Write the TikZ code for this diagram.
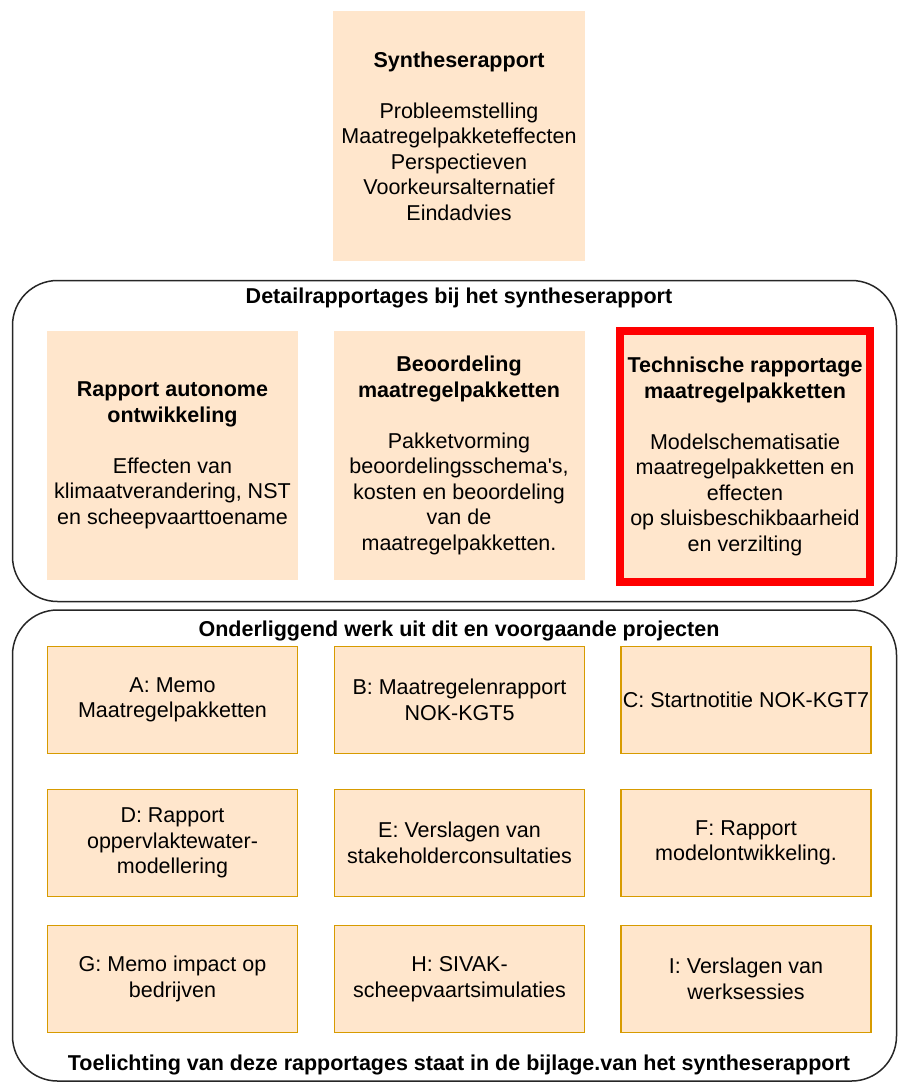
\documentclass[tikz,border=0pt]{standalone}
\usepackage{fontspec}
\setmainfont{Liberation Sans}
\usetikzlibrary{positioning}
\definecolor{perzik}{HTML}{FFE6CC}
\definecolor{oranjerand}{HTML}{D79B00}
\definecolor{rood}{HTML}{FF0000}
\newcommand{\tekstmaat}{\fontsize{21.5}{25.5}\selectfont}
\begin{document}
\begin{tikzpicture}[x=1pt,y=-1pt,
	blok/.style={fill=perzik,minimum width=251pt,minimum height=249pt,align=center,inner sep=2pt,font=\tekstmaat},
	rodeblok/.style={blok,draw=rood,line width=8pt,minimum width=250pt,minimum height=251pt},
	werk/.style={fill=perzik,draw=oranjerand,line width=1.5pt,minimum width=250pt,minimum height=107pt,align=center,inner sep=2pt,font=\tekstmaat},
	kader/.style={draw=black!85,line width=1.5pt,rounded corners=45pt,minimum width=884pt,inner sep=0pt},
	kop/.style={font=\bfseries\tekstmaat,inner sep=0pt}]
		\useasboundingbox (0,0) rectangle (898,1083);
		\node[blok,minimum width=252pt,minimum height=250pt] (synthese) at (459,136) {\textbf{Syntheserapport}\\[25.5pt]Probleemstelling\\Maatregelpakketeffecten\\Perspectieven\\Voorkeursalternatief\\Eindadvies};
		\node[kader,minimum height=321pt] (detail) at (454.5,441) {};
		\node[kop] (detailkop) at (459,298) {Detailrapportages bij het syntheserapport};
		\node[blok] (autonoom) at (172.5,455.5) {\textbf{Rapport autonome}\\\textbf{ontwikkeling}\\[25.5pt]Effecten van\\klimaatverandering, NST\\en scheepvaarttoename};
		\node[blok] (beoordeling) at (459,455.5) {\textbf{Beoordeling}\\\textbf{maatregelpakketten}\\[25.5pt]Pakketvorming\\beoordelingsschema\textquotesingle s,\\kosten en beoordeling\\van de\\maatregelpakketten.};
		\node[rodeblok] (technisch) at (745,456.5) {\textbf{Technische rapportage}\\\textbf{maatregelpakketten}\\[25.5pt]Modelschematisatie\\maatregelpakketten en\\effecten\\op sluisbeschikbaarheid\\en verzilting};
		\node[kader,minimum height=471pt] (onderliggend) at (454.5,845.5) {};
		\node[kop] (onderkop) at (459,631) {Onderliggend werk uit dit en voorgaande projecten};
		\node[werk] (memoA) at (172.5,700) {A: Memo\\Maatregelpakketten};
		\node[werk] (rapportB) at (459.5,700) {B: Maatregelenrapport\\NOK-KGT5};
		\node[werk] (notitieC) at (746,700) {C: Startnotitie NOK-KGT7};
		\node[werk] (rapportD) at (172.5,843) {D: Rapport\\oppervlaktewater-\\modellering};
		\node[werk] (verslagE) at (459.5,843) {E: Verslagen van\\stakeholderconsultaties};
		\node[werk] (rapportF) at (746,843) {F: Rapport\\modelontwikkeling.};
		\node[werk] (memoG) at (172.5,979) {G: Memo impact op\\bedrijven};
		\node[werk] (simulatieH) at (459.5,979) {H: SIVAK-\\scheepvaartsimulaties};
		\node[werk] (verslagI) at (746,979) {I: Verslagen van\\werksessies};
		\node[kop] (toelichting) at (459,1065) {Toelichting van deze rapportages staat in de bijlage.van het syntheserapport};
	\end{tikzpicture}
\end{document}
